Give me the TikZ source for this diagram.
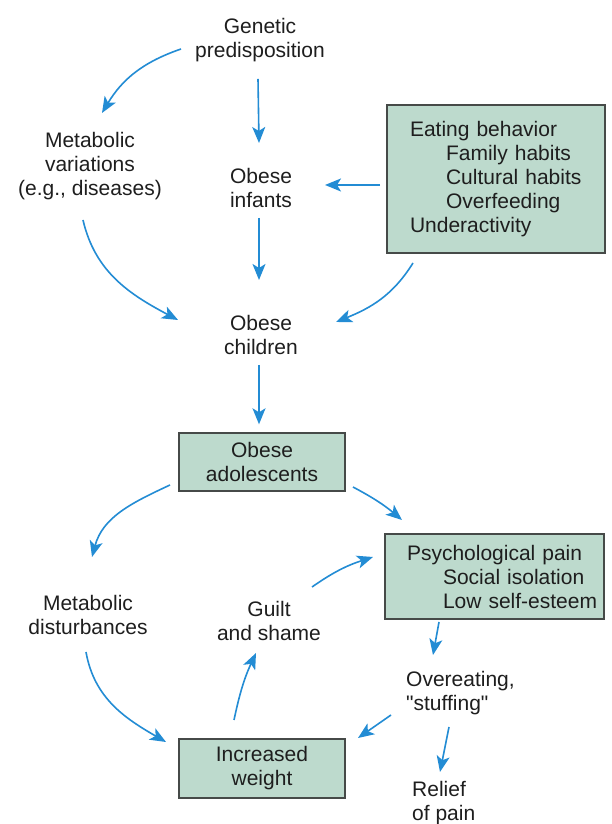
\documentclass[tikz,border=0pt]{standalone}
\usepackage{fontspec}
\setmainfont{Liberation Sans}
\newfontfamily\plainquotes{Liberation Sans}[Ligatures=TeXOff]
\usetikzlibrary{arrows.meta}
\definecolor{boxfill}{RGB}{189,218,205}
\definecolor{boxedge}{RGB}{70,74,72}
\definecolor{flow}{RGB}{35,140,212}
\definecolor{ink}{RGB}{30,30,30}
% one unbreakable list line, optionally indented
\newcommand{\listline}[1]{\mbox{#1}}
\newcommand{\subline}[1]{\mbox{\hspace*{36pt}#1}}
\begin{document}
\begin{tikzpicture}[x=1pt,y=1pt,
  lbl/.style={align=center, text=ink, font=\fontsize{21}{24}\selectfont, inner sep=2pt},
  box/.style={lbl, draw=boxedge, fill=boxfill, line width=1.4pt, inner sep=0pt},
  listbox/.style={box, align=left, inner xsep=23pt},
  arr/.style={draw=flow, line width=1.6pt, -{Stealth[length=16pt,width=13pt,inset=4pt]}}]
\fill[white] (0,0) rectangle (611,824);
\useasboundingbox (0,0) rectangle (611,824);

% upper part: causes of obesity in childhood
\node[lbl] (gen) at (260,784) {Genetic\\predisposition};
\node[lbl] (metv) at (90,658) {Metabolic\\variations\\(e.g., diseases)};
\node[lbl] (inf) at (261,636) {Obese\\infants};
\node[lbl] (chi) at (261,488.5) {Obese\\children};
\node[listbox, text width=172pt, minimum height=148pt] (eat) at (496,645)
  {\listline{Eating behavior}\\\subline{Family habits}\\\subline{Cultural habits}\\\subline{Overfeeding}\\\listline{Underactivity}};

% lower part: the adolescent cycle
\node[box, minimum width=166pt, minimum height=58pt] (adol) at (262,362) {Obese\\adolescents};
\node[lbl] (metd) at (88,209) {Metabolic\\disturbances};
\node[lbl] (guilt) at (269,203) {Guilt\\and shame};
\node[listbox, inner xsep=22pt, text width=175pt, minimum height=85pt] (psych) at (494.5,247.5)
  {\listline{Psychological pain}\\\subline{Social isolation}\\\subline{Low self-esteem}};
\node[lbl, align=left, anchor=west] (over) at (404,130.5) {Overeating,\\{\plainquotes "stuffing"}};
\node[box, minimum width=166pt, minimum height=59pt] (weight) at (262,55.5) {Increased\\weight};
\node[lbl, align=left, anchor=west] (relief) at (410,20.5) {Relief\\of pain};

% connectors
\draw[arr] ([shift={(-79,-9)}]gen.center) to[out=199,in=59] ([shift={(12,53)}]metv.center);
\draw[arr] ([shift={(-2,-39)}]gen.center) -- ([shift={(-2,45)}]inf.center);
\draw[arr] ([shift={(-116,-6)}]eat.center) -- ([shift={(64,3)}]inf.center);
\draw[arr] ([shift={(-2,-30)}]inf.center) -- ([shift={(-2,55.5)}]chi.center);
\draw[arr] ([shift={(-7,-54)}]metv.center) to[out=283,in=152] ([shift={(-83,15.5)}]chi.center);
\draw[arr] ([shift={(-83,-84)}]eat.center) to[out=238,in=22] ([shift={(75,13.5)}]chi.center);
\draw[arr] ([shift={(-2,-29.5)}]chi.center) -- ([shift={(-3,8)}]adol.north);

\draw[arr] ([shift={(-92,-23)}]adol.center) to[out=205,in=75] ([shift={(4,58)}]metd.center);
\draw[arr] ([shift={(91,-25)}]adol.center) to[out=-28,in=140] ([shift={(-92.5,56.5)}]psych.center);
\draw[arr] ([shift={(-2,-37)}]metd.center) to[out=-80,in=150] ([shift={(-96,26.5)}]weight.center);
\draw[arr] ([shift={(-28,48.5)}]weight.center) to[out=78,in=-115] ([shift={(-13,-32)}]guilt.center);
\draw[arr] ([shift={(43,34)}]guilt.center) to[out=35,in=198] ([shift={(-121.5,19.5)}]psych.center);
\draw[arr] ([shift={(-55.5,-45.5)}]psych.center) -- ([shift={(29,38.5)}]over.west);
\draw[arr] ([shift={(-13,-21.5)}]over.west) -- ([shift={(96,30.5)}]weight.center);
\draw[arr] ([shift={(45,-33.5)}]over.west) -- ([shift={(30,31.5)}]relief.west);
\end{tikzpicture}
\end{document}
